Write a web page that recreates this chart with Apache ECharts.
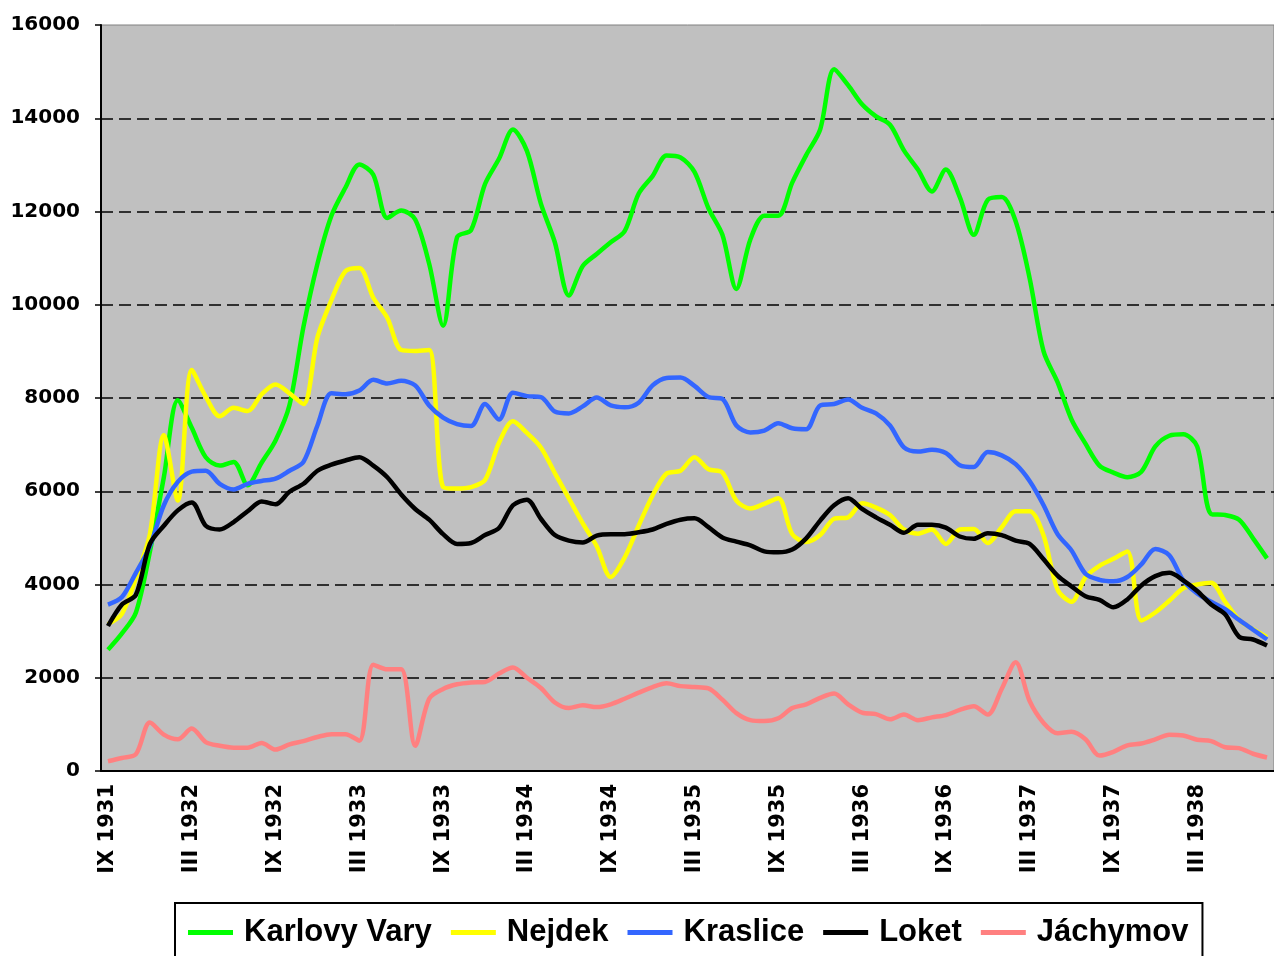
<!DOCTYPE html>
<html>
<head>
<meta charset="utf-8">
<script src="https://cdn.jsdelivr.net/npm/echarts@6/dist/echarts.min.js"></script>
<style>
  html, body { margin: 0; padding: 0; background: #fff; }
  #chart { width: 1274px; height: 956px; }
</style>
</head>
<body>
<div id="chart"></div>
<script>
// mesice IX 1931 .. VIII 1938
const romanMonths = ['I','II','III','IV','V','VI','VII','VIII','IX','X','XI','XII'];
const months = [];
for (let k = 0; k < 84; k++) {
  const m = (8 + k) % 12;
  const y = 1931 + Math.floor((8 + k) / 12);
  months.push(romanMonths[m] + ' ' + y);
}

const karlovyVary = [
  2600, 2950, 3400, 4700, 6300, 7950, 7360, 6730, 6550, 6630, 6130, 6610, 7090, 7850,
  9530, 10880, 11910, 12510, 13010, 12790, 11860, 12020, 11830, 10880, 9550, 11450, 11600,
  12590, 13130, 13760, 13300, 12170, 11340, 10200, 10830, 11090, 11340, 11580, 12380, 12760, 13200,
  13160, 12850, 12070, 11500, 10340, 11400, 11910, 11910, 12620, 13210, 13760, 15050, 14710, 14300,
  14040, 13860, 13310, 12900, 12430, 12900, 12310, 11500, 12250, 12310, 11790, 10570, 9000,
  8340, 7540, 7020, 6550, 6400, 6300, 6420, 6960, 7190, 7220, 6960, 5510, 5490, 5390, 4990, 4560
];
const nejdek = [
  3150, 3370, 4140, 5080, 7200, 5800, 8600, 8030, 7610, 7790, 7720, 8080, 8290, 8100,
  7870, 9300, 10100, 10720, 10790, 10150, 9720, 9030, 9010, 9030, 6090, 6060, 6090,
  6240, 7040, 7500, 7250, 6940, 6390, 5850, 5310, 4820, 4160, 4580, 5260, 5910, 6380,
  6440, 6730, 6470, 6400, 5800, 5630, 5730, 5850, 5080, 4910, 5060, 5410, 5440, 5740,
  5650, 5490, 5180, 5090, 5180, 4870, 5180, 5190, 4890, 5230, 5570, 5570, 5050,
  3890, 3630, 4160, 4400, 4550, 4710, 3230, 3400, 3650, 3920, 4000, 4040, 3630, 3240, 3040, 2870
];
const kraslice = [
  3570, 3730, 4250, 4820, 5700, 6200, 6420, 6440, 6160, 6040, 6160, 6220, 6270, 6440,
  6630, 7410, 8100, 8080, 8160, 8390, 8310, 8370, 8270, 7840, 7580, 7440, 7400,
  7870, 7540, 8110, 8040, 8020, 7710, 7670, 7820, 8010, 7840, 7800, 7900, 8270, 8430,
  8440, 8260, 8020, 7980, 7410, 7260, 7300, 7460, 7350, 7330, 7840, 7870, 7970, 7790,
  7670, 7410, 6940, 6850, 6890, 6820, 6560, 6520, 6840, 6770, 6580, 6220, 5700,
  5080, 4730, 4230, 4100, 4070, 4160, 4430, 4760, 4630, 4090, 3810, 3630, 3470, 3240, 3030, 2820
];
const loket = [
  3110, 3570, 3780, 4870, 5260, 5590, 5760, 5260, 5180, 5340, 5570, 5780, 5720, 5990,
  6160, 6440, 6570, 6660, 6730, 6550, 6300, 5930, 5620, 5390, 5080, 4870, 4890,
  5060, 5210, 5700, 5820, 5410, 5060, 4940, 4900, 5050, 5080, 5080, 5120, 5180, 5300,
  5390, 5420, 5230, 5010, 4920, 4840, 4710, 4690, 4750, 4990, 5370, 5700, 5850, 5620,
  5440, 5280, 5110, 5280, 5280, 5220, 5030, 4980, 5100, 5060, 4940, 4870, 4540,
  4190, 3960, 3750, 3670, 3510, 3680, 3980, 4180, 4250, 4090, 3860, 3570, 3360, 2880, 2820, 2690
];
const jachymov = [
  210, 280, 360, 1040, 780, 680, 910, 620, 540, 500, 500, 600, 460, 570,
  640, 730, 790, 790, 650, 2280, 2180, 2180, 540, 1550, 1760, 1860, 1900,
  1910, 2090, 2220, 2000, 1780, 1470, 1350, 1410, 1370, 1430, 1550, 1680, 1800, 1880,
  1820, 1800, 1770, 1530, 1240, 1090, 1070, 1130, 1350, 1430, 1570, 1660, 1430, 1250,
  1220, 1110, 1210, 1090, 1150, 1200, 1310, 1390, 1210, 1760, 2330, 1500, 1030,
  810, 840, 680, 330, 410, 550, 590, 680, 780, 760, 670, 640, 510, 490, 370, 290
];

const seriesNames = ['Karlovy Vary', 'Nejdek', 'Kraslice', 'Loket', 'Jáchymov'];
const seriesData = [karlovyVary, nejdek, kraslice, loket, jachymov];
const seriesColors = ['#00FF00', '#FFFF00', '#3366FF', '#000000', '#FF8080'];

const myChart = echarts.init(document.getElementById('chart'));

myChart.setOption({
  animation: false,
  backgroundColor: '#ffffff',
  color: seriesColors,
  grid: {
    left: 101,
    top: 25,
    width: 1176,
    height: 746,
    show: true,
    backgroundColor: '#C0C0C0',
    borderColor: '#808080',
    borderWidth: 1
  },
  legend: {
    data: seriesNames,
    left: 175,
    top: 903,
    icon: 'rect',
    itemWidth: 45,
    itemHeight: 5,
    itemGap: 19,
    padding: [14, 14, 24, 13],
    backgroundColor: '#ffffff',
    borderColor: '#000000',
    borderWidth: 2,
    textStyle: {
      fontFamily: "'Liberation Sans', Arial, sans-serif",
      fontWeight: 'bold',
      fontSize: 31,
      color: '#000',
      padding: [0, 0, 0, 6]
    }
  },
  xAxis: {
    type: 'category',
    data: months,
    boundaryGap: true,
    axisLine: { lineStyle: { color: '#000', width: 2 } },
    axisTick: { interval: 0, length: 5, lineStyle: { color: '#000', width: 1.5 } },
    axisLabel: {
      interval: 5,
      rotate: 90,
      margin: 13,
      fontFamily: "'DejaVu Sans', Verdana, sans-serif",
      fontWeight: 'bold',
      fontSize: 21,
      color: '#000'
    },
    splitLine: { show: false }
  },
  yAxis: {
    type: 'value',
    min: 0,
    max: 16000,
    interval: 2000,
    axisLine: { show: true, lineStyle: { color: '#000', width: 2 } },
    axisTick: { show: true, length: 6, lineStyle: { color: '#000', width: 1.5 } },
    axisLabel: {
      margin: 21,
      formatter: v => String(v),
      fontFamily: "'DejaVu Sans', Verdana, sans-serif",
      fontWeight: 'bold',
      fontSize: 20,
      color: '#000'
    },
    splitLine: {
      show: true,
      showMinLine: false,
      showMaxLine: false,
      lineStyle: { color: '#000', width: 1.5, type: [12, 6] }
    }
  },
  series: seriesNames.map((name, i) => ({
    name: name,
    type: 'line',
    data: seriesData[i],
    smooth: 0.3,
    symbol: 'none',
    lineStyle: { width: 4.5, color: seriesColors[i] },
    itemStyle: { color: seriesColors[i] }
  }))
});

window.addEventListener('resize', () => {
  myChart.resize();
});
</script>
</body>
</html>
